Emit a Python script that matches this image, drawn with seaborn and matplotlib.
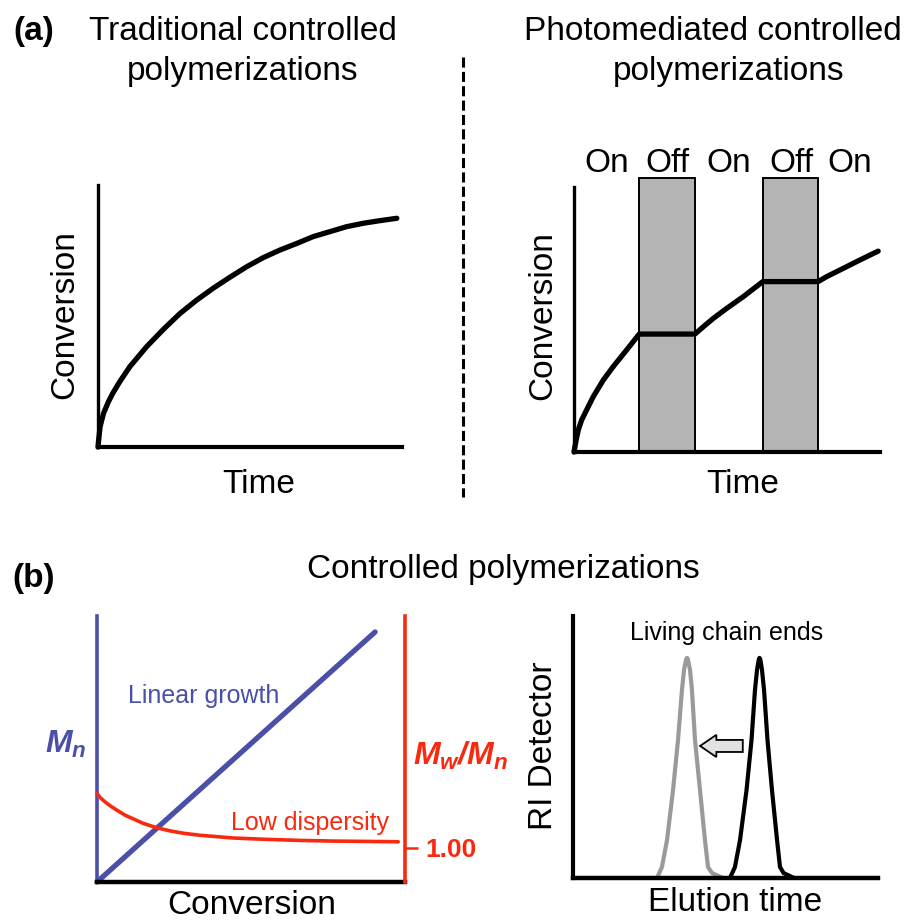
import matplotlib
matplotlib.use("Agg")
import matplotlib.pyplot as plt
from matplotlib.lines import Line2D
import seaborn as sns

# ---------------- data ----------------
# (a) left: conventional controlled polymerization, conversion (%) vs time
trad_time = [0.0, 0.01, 0.07, 0.18, 0.34, 0.50, 0.72, 1.05, 1.60, 2.15, 2.70, 3.25,
             3.79, 4.34, 4.89, 5.44, 5.99, 6.54, 7.08, 7.63, 8.18, 8.73, 9.28, 9.83]
trad_conv = [0.0, 1.4, 7.8, 12.8, 17.2, 20.8, 25.0, 30.7, 38.3, 44.9, 51.0, 56.1,
             60.6, 64.8, 68.8, 72.3, 75.2, 77.7, 80.3, 82.2, 84.1, 85.4, 86.4, 87.3]

# (a) right: light-gated polymerization, growth halts while the light is off
photo_time = [0.0, 0.07, 0.14, 0.25, 0.41, 0.63, 0.96, 1.28, 1.72, 2.13,
              3.95, 4.23, 4.55, 4.99, 5.53, 6.17,
              7.98, 8.26, 8.80, 9.35, 9.94]
photo_conv = [0.0, 4.5, 8.3, 12.1, 15.8, 20.9, 27.2, 32.2, 38.5, 44.5,
              44.5, 47.3, 50.4, 54.2, 58.6, 64.3,
              64.3, 66.2, 69.3, 72.5, 75.8]
dark_start = [2.13, 6.19]
dark_end = [3.95, 7.99]
phase_labels = ["On", "Off", "On", "Off", "On"]
time_max = 10.0

# (b) left: Mn grows linearly with conversion, dispersity drops toward 1
mn_conv = [0.0, 90.3]
mn_value = [0.0, 94.0]
pdi_conv = [0.0, 0.97, 2.6, 4.2, 6.4, 9.1, 11.8, 15.0, 19.4, 23.7, 28.0, 33.4,
            38.9, 44.3, 55.1, 65.9, 76.7, 87.6, 97.8]
pdi_value = [1.160, 1.148, 1.135, 1.124, 1.111, 1.096, 1.085, 1.072, 1.059, 1.050,
             1.043, 1.037, 1.033, 1.029, 1.025, 1.022, 1.020, 1.019, 1.018]
pdi_ticks = [1.00]
pdi_tick_labels = ["1.00"]

# (b) right: SEC traces before (black) and after chain extension (gray)
sec_signal = [0, 4.2, 14.5, 33.6, 52.7, 71.8, 79.4, 82.4, 83.6, 84.0, 83.6,
              82.4, 79.4, 71.8, 52.7, 33.6, 14.5, 4.2, 1.9, 0]
gray_elution = [8.26, 8.75, 9.25, 9.84, 10.33, 10.72, 10.92, 11.07, 11.14, 11.21, 11.29,
                11.36, 11.51, 11.70, 12.00, 12.49, 12.98, 13.28, 13.67, 14.75]
black_elution = [15.44, 15.93, 16.43, 17.07, 17.56, 17.90, 18.10, 18.23, 18.29, 18.34, 18.41,
                 18.47, 18.59, 18.79, 19.13, 19.57, 20.07, 20.36, 20.71, 21.74]
shift_from, shift_to, shift_level = 16.7, 12.5, 50.4

# ---------------- style ----------------
sns.set_theme(style="white")
plt.rcParams["font.family"] = ["Liberation Sans", "DejaVu Sans"]
plt.rcParams["text.color"] = "black"
plt.rcParams["axes.labelcolor"] = "black"
plt.rcParams["mathtext.fontset"] = "custom"
plt.rcParams["mathtext.it"] = "Liberation Sans:italic:bold"
plt.rcParams["mathtext.rm"] = "Liberation Sans:italic:bold"
plt.rcParams["mathtext.bf"] = "Liberation Sans:italic:bold"

BLUE = "#4a4fa8"
RED = "#f8290f"
GRAY_BOX = "#b4b4b4"
GRAY_PEAK = "#9a9a9a"

W, H = 910, 921
fig = plt.figure(figsize=(W / 100, H / 100), dpi=100)


def rect(left, top, right, bottom):
    return [left / W, 1 - bottom / H, (right - left) / W, (bottom - top) / H]


def ftext(x, y, s, **kw):
    kw.setdefault("color", "black")
    fig.text(x / W, 1 - y / H, s, **kw)


def bare_axes(r, xlim, ylim):
    ax = fig.add_axes(r)
    ax.set_facecolor("none")
    ax.set_xlim(*xlim)
    ax.set_ylim(*ylim)
    ax.set_xticks([])
    ax.set_yticks([])
    for side in ("top", "right"):
        ax.spines[side].set_visible(False)
    for side in ("left", "bottom"):
        ax.spines[side].set_color("black")
        ax.spines[side].set_linewidth(2.4)
    return ax


# ---------------- (a) left ----------------
ax1 = bare_axes(rect(98, 185, 402, 447), (0, time_max), (0, 100))
sns.lineplot(x=trad_time, y=trad_conv, ax=ax1, color="black", lw=3.8,
             estimator=None, sort=False, clip_on=False)
ax1.spines["bottom"].set_linewidth(3.0)

# ---------------- (a) right ----------------
ax2 = bare_axes(rect(574, 187, 880, 452), (0, time_max), (0, 100))
for s, e in zip(dark_start, dark_end):
    ax2.axvspan(s, e, ymin=0, ymax=1.034, facecolor=GRAY_BOX, edgecolor="black",
                lw=1.4, clip_on=False, zorder=1)
sns.lineplot(x=photo_time, y=photo_conv, ax=ax2, color="black", lw=3.8,
             estimator=None, sort=False, clip_on=False, zorder=3)
ax2.spines["bottom"].set_linewidth(3.0)
bounds = [0.0] + [v for pair in zip(dark_start, dark_end) for v in pair] + [time_max]
for lab, a, b in zip(phase_labels, bounds[:-1], bounds[1:]):
    ax2.text((a + b) / 2, 1.09, lab, transform=ax2.get_xaxis_transform(),
             ha="center", va="center", fontsize=24, color="black")

# divider between the two schemes
fig.add_artist(Line2D([463 / W, 463 / W], [1 - 57 / H, 1 - 497 / H],
                      color="black", lw=2.2, dashes=(3.3, 1.4)))

# titles and labels of (a)
ftext(13, 40, "(a)", fontsize=24, fontweight="bold", va="baseline")
ftext(243, 40, "Traditional controlled", fontsize=24, ha="center", va="baseline")
ftext(243, 80, "polymerizations", fontsize=24, ha="center", va="baseline")
ftext(713, 40, "Photomediated controlled", fontsize=24, ha="center", va="baseline")
ftext(729, 80, "polymerizations", fontsize=24, ha="center", va="baseline")
ftext(65, 315, "Conversion", fontsize=24, rotation=90, ha="center", va="center")
ftext(543, 316, "Conversion", fontsize=24, rotation=90, ha="center", va="center")
ftext(259, 484, "Time", fontsize=24, ha="center", va="center")
ftext(743, 484, "Time", fontsize=24, ha="center", va="center")

# ---------------- (b) left ----------------
ax3 = bare_axes(rect(97, 616, 405, 882), (0, 100), (0, 100))
ax3.spines["left"].set_color(BLUE)
ax3.spines["left"].set_linewidth(2.6)
ax3.spines["bottom"].set_linewidth(3.2)
sns.lineplot(x=mn_conv, y=mn_value, ax=ax3, color=BLUE, lw=3.8,
             estimator=None, sort=False, clip_on=False)

ax3r = ax3.twinx()
ax3r.set_facecolor("none")
ax3r.set_ylim(0.9, 1.68)
for side in ("top", "left", "bottom"):
    ax3r.spines[side].set_visible(False)
ax3r.spines["right"].set_color(RED)
ax3r.spines["right"].set_linewidth(2.6)
sns.lineplot(x=pdi_conv, y=pdi_value, ax=ax3r, color=RED, lw=2.6,
             estimator=None, sort=False, clip_on=False)
ax3r.set_yticks(pdi_ticks)
ax3r.set_yticklabels(pdi_tick_labels, fontweight="bold")
ax3r.tick_params(axis="y", right=True, colors=RED, length=9, width=1.8,
                 pad=6, labelsize=19, direction="out")
ax3.set_xlim(0, 100)

ftext(204, 703, "Linear growth", fontsize=18, color=BLUE, ha="center", va="baseline")
ftext(310, 830, "Low dispersity", fontsize=18, color=RED, ha="center", va="baseline")
ftext(45, 753, r"$M_n$", fontsize=23, color=BLUE, ha="left", va="baseline")
ftext(413, 765, r"$M_w/M_n$", fontsize=23, color=RED, ha="left", va="baseline")
ftext(252, 905, "Conversion", fontsize=24, ha="center", va="center")

# ---------------- (b) right ----------------
ax4 = bare_axes(rect(573, 616, 878, 878), (0, 30), (0, 100))
ax4.spines["bottom"].set_linewidth(3.2)
ax4.spines["left"].set_linewidth(3.0)
sns.lineplot(x=gray_elution, y=sec_signal, ax=ax4, color=GRAY_PEAK, lw=3.0,
             estimator=None, sort=False)
sns.lineplot(x=black_elution, y=sec_signal, ax=ax4, color="black", lw=3.0,
             estimator=None, sort=False)
ax4.arrow(shift_from, shift_level, shift_to - shift_from, 0, width=4.6,
          head_width=8.5, head_length=1.6, length_includes_head=True,
          fc="#e2e2e2", ec="black", lw=1.3, zorder=4)

ftext(727, 633, "Living chain ends", fontsize=18, ha="center", va="center")
ftext(543, 746, "RI Detector", fontsize=24, rotation=90, ha="center", va="center")
ftext(735, 902, "Elution time", fontsize=24, ha="center", va="center")

# headings of (b)
ftext(12, 587, "(b)", fontsize=24, fontweight="bold", va="baseline")
ftext(503, 578, "Controlled polymerizations", fontsize=24, ha="center", va="baseline")

fig.savefig("out.png", dpi=100)
